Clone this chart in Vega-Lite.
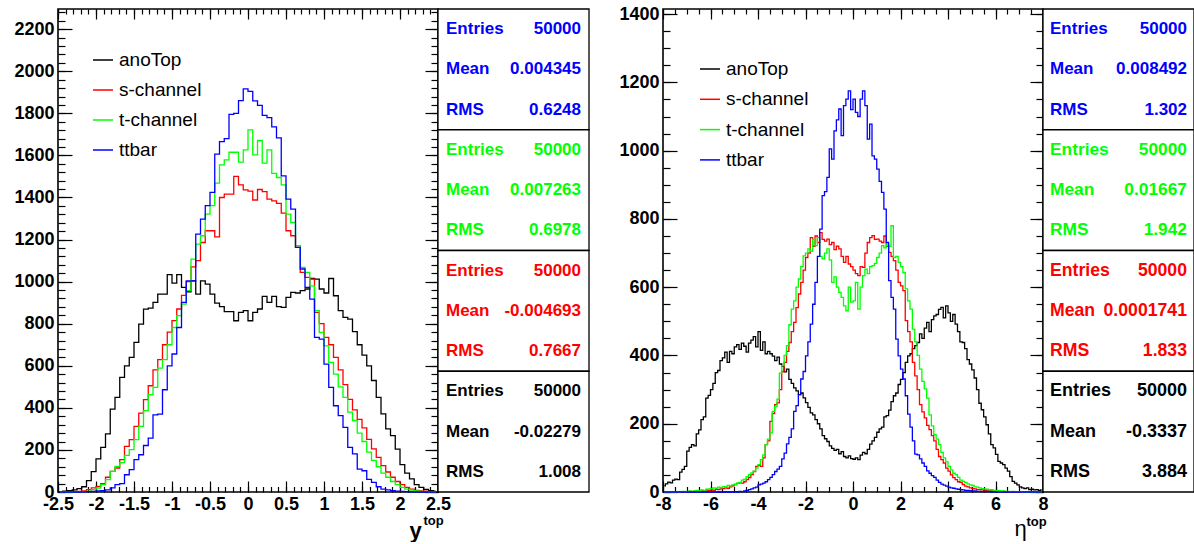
{
 "$schema": "https://vega.github.io/schema/vega-lite/v6.json",
 "background": "white",
 "padding": {"left": 13, "top": 4, "right": 0, "bottom": 0},
 "config": {
  "view": {"stroke": "#000000", "strokeWidth": 1.6},
  "axis": {"domain": false, "grid": false, "tickColor": "#000000", "tickWidth": 1.2, "labelColor": "#000000", "labelFont": "Liberation Sans", "labelFontWeight": "bold", "labelFontSize": 18, "titleColor": "#000000", "labelOverlap": false, "labelFlush": false, "labelBound": false}
 },
 "datasets": {
  "left": [
   {"x":-2.46875,"anoTop":2,"s-channel":0,"t-channel":0,"ttbar":0},
   {"x":-2.40625,"anoTop":4,"s-channel":0,"t-channel":0,"ttbar":0},
   {"x":-2.34375,"anoTop":6,"s-channel":1,"t-channel":0,"ttbar":0},
   {"x":-2.28125,"anoTop":10,"s-channel":2,"t-channel":1,"ttbar":0},
   {"x":-2.21875,"anoTop":16,"s-channel":3,"t-channel":1,"ttbar":0},
   {"x":-2.15625,"anoTop":25,"s-channel":5,"t-channel":2,"ttbar":1},
   {"x":-2.09375,"anoTop":54,"s-channel":11,"t-channel":3,"ttbar":2},
   {"x":-2.03125,"anoTop":97,"s-channel":20,"t-channel":11,"ttbar":3},
   {"x":-1.96875,"anoTop":157,"s-channel":27,"t-channel":19,"ttbar":5},
   {"x":-1.90625,"anoTop":212,"s-channel":40,"t-channel":35,"ttbar":6},
   {"x":-1.84375,"anoTop":276,"s-channel":70,"t-channel":59,"ttbar":10},
   {"x":-1.78125,"anoTop":394,"s-channel":98,"t-channel":98,"ttbar":20},
   {"x":-1.71875,"anoTop":450,"s-channel":114,"t-channel":122,"ttbar":35},
   {"x":-1.65625,"anoTop":545,"s-channel":154,"t-channel":140,"ttbar":40},
   {"x":-1.59375,"anoTop":600,"s-channel":217,"t-channel":174,"ttbar":82},
   {"x":-1.53125,"anoTop":640,"s-channel":249,"t-channel":201,"ttbar":106},
   {"x":-1.46875,"anoTop":711,"s-channel":312,"t-channel":249,"ttbar":154},
   {"x":-1.40625,"anoTop":798,"s-channel":375,"t-channel":312,"ttbar":177},
   {"x":-1.34375,"anoTop":869,"s-channel":439,"t-channel":387,"ttbar":221},
   {"x":-1.28125,"anoTop":874,"s-channel":505,"t-channel":463,"ttbar":256},
   {"x":-1.21875,"anoTop":901,"s-channel":581,"t-channel":497,"ttbar":367},
   {"x":-1.15625,"anoTop":941,"s-channel":629,"t-channel":589,"ttbar":370},
   {"x":-1.09375,"anoTop":941,"s-channel":700,"t-channel":629,"ttbar":486},
   {"x":-1.03125,"anoTop":1033,"s-channel":760,"t-channel":700,"ttbar":600},
   {"x":-0.96875,"anoTop":993,"s-channel":815,"t-channel":782,"ttbar":656},
   {"x":-0.90625,"anoTop":1033,"s-channel":870,"t-channel":838,"ttbar":782},
   {"x":-0.84375,"anoTop":973,"s-channel":935,"t-channel":893,"ttbar":901},
   {"x":-0.78125,"anoTop":952,"s-channel":1000,"t-channel":957,"ttbar":1004},
   {"x":-0.71875,"anoTop":1004,"s-channel":1070,"t-channel":1107,"ttbar":1004},
   {"x":-0.65625,"anoTop":941,"s-channel":1100,"t-channel":1178,"ttbar":1226},
   {"x":-0.59375,"anoTop":1004,"s-channel":1186,"t-channel":1218,"ttbar":1297},
   {"x":-0.53125,"anoTop":988,"s-channel":1242,"t-channel":1321,"ttbar":1361},
   {"x":-0.46875,"anoTop":941,"s-channel":1242,"t-channel":1361,"ttbar":1424},
   {"x":-0.40625,"anoTop":898,"s-channel":1213,"t-channel":1468,"ttbar":1606},
   {"x":-0.34375,"anoTop":881,"s-channel":1400,"t-channel":1555,"ttbar":1666},
   {"x":-0.28125,"anoTop":857,"s-channel":1416,"t-channel":1579,"ttbar":1680},
   {"x":-0.21875,"anoTop":857,"s-channel":1416,"t-channel":1615,"ttbar":1795},
   {"x":-0.15625,"anoTop":814,"s-channel":1500,"t-channel":1615,"ttbar":1800},
   {"x":-0.09375,"anoTop":854,"s-channel":1460,"t-channel":1568,"ttbar":1860},
   {"x":-0.03125,"anoTop":862,"s-channel":1436,"t-channel":1626,"ttbar":1916},
   {"x":0.03125,"anoTop":814,"s-channel":1430,"t-channel":1721,"ttbar":1904},
   {"x":0.09375,"anoTop":854,"s-channel":1388,"t-channel":1603,"ttbar":1859},
   {"x":0.15625,"anoTop":870,"s-channel":1438,"t-channel":1671,"ttbar":1838},
   {"x":0.21875,"anoTop":930,"s-channel":1428,"t-channel":1563,"ttbar":1790},
   {"x":0.28125,"anoTop":901,"s-channel":1392,"t-channel":1626,"ttbar":1780},
   {"x":0.34375,"anoTop":930,"s-channel":1384,"t-channel":1515,"ttbar":1736},
   {"x":0.40625,"anoTop":881,"s-channel":1372,"t-channel":1495,"ttbar":1683},
   {"x":0.46875,"anoTop":878,"s-channel":1326,"t-channel":1460,"ttbar":1503},
   {"x":0.53125,"anoTop":925,"s-channel":1242,"t-channel":1321,"ttbar":1392},
   {"x":0.59375,"anoTop":949,"s-channel":1218,"t-channel":1281,"ttbar":1345},
   {"x":0.65625,"anoTop":946,"s-channel":1163,"t-channel":1171,"ttbar":1163},
   {"x":0.71875,"anoTop":957,"s-channel":1044,"t-channel":1068,"ttbar":1060},
   {"x":0.78125,"anoTop":965,"s-channel":1020,"t-channel":1044,"ttbar":973},
   {"x":0.84375,"anoTop":1015,"s-channel":1012,"t-channel":980,"ttbar":917},
   {"x":0.90625,"anoTop":1012,"s-channel":854,"t-channel":862,"ttbar":735},
   {"x":0.96875,"anoTop":965,"s-channel":800,"t-channel":759,"ttbar":727},
   {"x":1.03125,"anoTop":946,"s-channel":735,"t-channel":695,"ttbar":608},
   {"x":1.09375,"anoTop":1015,"s-channel":700,"t-channel":616,"ttbar":497},
   {"x":1.15625,"anoTop":933,"s-channel":640,"t-channel":560,"ttbar":410},
   {"x":1.21875,"anoTop":862,"s-channel":581,"t-channel":500,"ttbar":363},
   {"x":1.28125,"anoTop":830,"s-channel":510,"t-channel":450,"ttbar":307},
   {"x":1.34375,"anoTop":822,"s-channel":440,"t-channel":380,"ttbar":212},
   {"x":1.40625,"anoTop":762,"s-channel":390,"t-channel":340,"ttbar":181},
   {"x":1.46875,"anoTop":700,"s-channel":345,"t-channel":280,"ttbar":109},
   {"x":1.53125,"anoTop":651,"s-channel":305,"t-channel":240,"ttbar":101},
   {"x":1.59375,"anoTop":600,"s-channel":250,"t-channel":190,"ttbar":60},
   {"x":1.65625,"anoTop":530,"s-channel":205,"t-channel":150,"ttbar":46},
   {"x":1.71875,"anoTop":450,"s-channel":165,"t-channel":120,"ttbar":25},
   {"x":1.78125,"anoTop":371,"s-channel":125,"t-channel":90,"ttbar":14},
   {"x":1.84375,"anoTop":300,"s-channel":95,"t-channel":70,"ttbar":10},
   {"x":1.90625,"anoTop":268,"s-channel":70,"t-channel":50,"ttbar":6},
   {"x":1.96875,"anoTop":204,"s-channel":50,"t-channel":35,"ttbar":4},
   {"x":2.03125,"anoTop":130,"s-channel":35,"t-channel":22,"ttbar":3},
   {"x":2.09375,"anoTop":90,"s-channel":22,"t-channel":14,"ttbar":2},
   {"x":2.15625,"anoTop":62,"s-channel":14,"t-channel":9,"ttbar":1},
   {"x":2.21875,"anoTop":35,"s-channel":8,"t-channel":5,"ttbar":1},
   {"x":2.28125,"anoTop":22,"s-channel":5,"t-channel":3,"ttbar":0},
   {"x":2.34375,"anoTop":12,"s-channel":3,"t-channel":2,"ttbar":0},
   {"x":2.40625,"anoTop":6,"s-channel":1,"t-channel":1,"ttbar":0},
   {"x":2.46875,"anoTop":4,"s-channel":0,"t-channel":0,"ttbar":0}
  ],
  "right": [
   {"x":-7.95,"anoTop":18,"s-channel":0,"t-channel":0,"ttbar":0},
   {"x":-7.85,"anoTop":24,"s-channel":0,"t-channel":0,"ttbar":0},
   {"x":-7.75,"anoTop":29,"s-channel":0,"t-channel":1,"ttbar":0},
   {"x":-7.65,"anoTop":27,"s-channel":1,"t-channel":0,"ttbar":0},
   {"x":-7.55,"anoTop":35,"s-channel":0,"t-channel":0,"ttbar":0},
   {"x":-7.45,"anoTop":38,"s-channel":0,"t-channel":1,"ttbar":0},
   {"x":-7.35,"anoTop":36,"s-channel":1,"t-channel":0,"ttbar":0},
   {"x":-7.25,"anoTop":58,"s-channel":0,"t-channel":1,"ttbar":0},
   {"x":-7.15,"anoTop":66,"s-channel":1,"t-channel":2,"ttbar":0},
   {"x":-7.05,"anoTop":75,"s-channel":0,"t-channel":1,"ttbar":0},
   {"x":-6.95,"anoTop":120,"s-channel":1,"t-channel":2,"ttbar":0},
   {"x":-6.85,"anoTop":131,"s-channel":2,"t-channel":3,"ttbar":0},
   {"x":-6.75,"anoTop":139,"s-channel":1,"t-channel":2,"ttbar":0},
   {"x":-6.65,"anoTop":135,"s-channel":2,"t-channel":4,"ttbar":0},
   {"x":-6.55,"anoTop":170,"s-channel":3,"t-channel":5,"ttbar":0},
   {"x":-6.45,"anoTop":182,"s-channel":2,"t-channel":4,"ttbar":0},
   {"x":-6.35,"anoTop":212,"s-channel":3,"t-channel":6,"ttbar":0},
   {"x":-6.25,"anoTop":220,"s-channel":4,"t-channel":5,"ttbar":0},
   {"x":-6.15,"anoTop":275,"s-channel":3,"t-channel":8,"ttbar":0},
   {"x":-6.05,"anoTop":283,"s-channel":5,"t-channel":9,"ttbar":0},
   {"x":-5.95,"anoTop":300,"s-channel":6,"t-channel":10,"ttbar":0},
   {"x":-5.85,"anoTop":318,"s-channel":5,"t-channel":12,"ttbar":0},
   {"x":-5.75,"anoTop":350,"s-channel":8,"t-channel":11,"ttbar":0},
   {"x":-5.65,"anoTop":356,"s-channel":7,"t-channel":14,"ttbar":0},
   {"x":-5.55,"anoTop":385,"s-channel":9,"t-channel":13,"ttbar":0},
   {"x":-5.45,"anoTop":393,"s-channel":10,"t-channel":16,"ttbar":0},
   {"x":-5.35,"anoTop":410,"s-channel":12,"t-channel":15,"ttbar":0},
   {"x":-5.25,"anoTop":380,"s-channel":11,"t-channel":19,"ttbar":0},
   {"x":-5.15,"anoTop":412,"s-channel":15,"t-channel":18,"ttbar":0},
   {"x":-5.05,"anoTop":405,"s-channel":18,"t-channel":21,"ttbar":0},
   {"x":-4.95,"anoTop":425,"s-channel":22,"t-channel":22,"ttbar":1},
   {"x":-4.85,"anoTop":432,"s-channel":25,"t-channel":26,"ttbar":0},
   {"x":-4.75,"anoTop":418,"s-channel":27,"t-channel":28,"ttbar":2},
   {"x":-4.65,"anoTop":436,"s-channel":26,"t-channel":35,"ttbar":1},
   {"x":-4.55,"anoTop":427,"s-channel":30,"t-channel":38,"ttbar":3},
   {"x":-4.45,"anoTop":410,"s-channel":36,"t-channel":45,"ttbar":5},
   {"x":-4.35,"anoTop":436,"s-channel":42,"t-channel":51,"ttbar":7},
   {"x":-4.25,"anoTop":445,"s-channel":51,"t-channel":56,"ttbar":9},
   {"x":-4.15,"anoTop":455,"s-channel":60,"t-channel":61,"ttbar":12},
   {"x":-4.05,"anoTop":425,"s-channel":75,"t-channel":70,"ttbar":14},
   {"x":-3.95,"anoTop":470,"s-channel":78,"t-channel":80,"ttbar":21},
   {"x":-3.85,"anoTop":415,"s-channel":75,"t-channel":95,"ttbar":23},
   {"x":-3.75,"anoTop":440,"s-channel":100,"t-channel":109,"ttbar":26},
   {"x":-3.65,"anoTop":405,"s-channel":139,"t-channel":139,"ttbar":30},
   {"x":-3.55,"anoTop":412,"s-channel":150,"t-channel":155,"ttbar":36},
   {"x":-3.45,"anoTop":405,"s-channel":207,"t-channel":173,"ttbar":43},
   {"x":-3.35,"anoTop":398,"s-channel":230,"t-channel":236,"ttbar":51},
   {"x":-3.25,"anoTop":385,"s-channel":256,"t-channel":250,"ttbar":60},
   {"x":-3.15,"anoTop":395,"s-channel":261,"t-channel":272,"ttbar":67},
   {"x":-3.05,"anoTop":375,"s-channel":300,"t-channel":348,"ttbar":75},
   {"x":-2.95,"anoTop":368,"s-channel":353,"t-channel":370,"ttbar":97},
   {"x":-2.85,"anoTop":352,"s-channel":380,"t-channel":400,"ttbar":114},
   {"x":-2.75,"anoTop":360,"s-channel":412,"t-channel":429,"ttbar":141},
   {"x":-2.65,"anoTop":330,"s-channel":438,"t-channel":490,"ttbar":160},
   {"x":-2.55,"anoTop":318,"s-channel":470,"t-channel":536,"ttbar":185},
   {"x":-2.45,"anoTop":305,"s-channel":497,"t-channel":560,"ttbar":236},
   {"x":-2.35,"anoTop":296,"s-channel":540,"t-channel":600,"ttbar":253},
   {"x":-2.25,"anoTop":285,"s-channel":580,"t-channel":624,"ttbar":285},
   {"x":-2.15,"anoTop":290,"s-channel":614,"t-channel":660,"ttbar":331},
   {"x":-2.05,"anoTop":276,"s-channel":650,"t-channel":692,"ttbar":353},
   {"x":-1.95,"anoTop":262,"s-channel":687,"t-channel":700,"ttbar":399},
   {"x":-1.85,"anoTop":248,"s-channel":700,"t-channel":712,"ttbar":440},
   {"x":-1.75,"anoTop":232,"s-channel":745,"t-channel":705,"ttbar":492},
   {"x":-1.65,"anoTop":226,"s-channel":720,"t-channel":740,"ttbar":550},
   {"x":-1.55,"anoTop":212,"s-channel":750,"t-channel":722,"ttbar":614},
   {"x":-1.45,"anoTop":200,"s-channel":731,"t-channel":745,"ttbar":690},
   {"x":-1.35,"anoTop":185,"s-channel":760,"t-channel":690,"ttbar":770},
   {"x":-1.25,"anoTop":165,"s-channel":740,"t-channel":683,"ttbar":868},
   {"x":-1.15,"anoTop":156,"s-channel":735,"t-channel":700,"ttbar":880},
   {"x":-1.05,"anoTop":148,"s-channel":741,"t-channel":712,"ttbar":922},
   {"x":-0.95,"anoTop":135,"s-channel":725,"t-channel":680,"ttbar":1005},
   {"x":-0.85,"anoTop":128,"s-channel":731,"t-channel":614,"ttbar":975},
   {"x":-0.75,"anoTop":122,"s-channel":710,"t-channel":630,"ttbar":1058},
   {"x":-0.65,"anoTop":125,"s-channel":720,"t-channel":600,"ttbar":1090},
   {"x":-0.55,"anoTop":112,"s-channel":712,"t-channel":585,"ttbar":1122},
   {"x":-0.45,"anoTop":118,"s-channel":690,"t-channel":570,"ttbar":1044},
   {"x":-0.35,"anoTop":104,"s-channel":673,"t-channel":545,"ttbar":1132},
   {"x":-0.25,"anoTop":100,"s-channel":690,"t-channel":531,"ttbar":1151},
   {"x":-0.15,"anoTop":106,"s-channel":668,"t-channel":600,"ttbar":1175},
   {"x":-0.05,"anoTop":98,"s-channel":660,"t-channel":556,"ttbar":1120},
   {"x":0.05,"anoTop":96,"s-channel":650,"t-channel":560,"ttbar":1151},
   {"x":0.15,"anoTop":100,"s-channel":640,"t-channel":614,"ttbar":1112},
   {"x":0.25,"anoTop":95,"s-channel":634,"t-channel":536,"ttbar":1100},
   {"x":0.35,"anoTop":108,"s-channel":660,"t-channel":600,"ttbar":1151},
   {"x":0.45,"anoTop":116,"s-channel":658,"t-channel":634,"ttbar":1175},
   {"x":0.55,"anoTop":112,"s-channel":700,"t-channel":653,"ttbar":1132},
   {"x":0.65,"anoTop":125,"s-channel":731,"t-channel":640,"ttbar":1034},
   {"x":0.75,"anoTop":140,"s-channel":745,"t-channel":660,"ttbar":1078},
   {"x":0.85,"anoTop":150,"s-channel":751,"t-channel":663,"ttbar":985},
   {"x":0.95,"anoTop":160,"s-channel":740,"t-channel":670,"ttbar":975},
   {"x":1.05,"anoTop":175,"s-channel":741,"t-channel":687,"ttbar":946},
   {"x":1.15,"anoTop":185,"s-channel":735,"t-channel":700,"ttbar":910},
   {"x":1.25,"anoTop":190,"s-channel":731,"t-channel":722,"ttbar":878},
   {"x":1.35,"anoTop":220,"s-channel":750,"t-channel":715,"ttbar":829},
   {"x":1.45,"anoTop":224,"s-channel":720,"t-channel":726,"ttbar":731},
   {"x":1.55,"anoTop":240,"s-channel":702,"t-channel":720,"ttbar":619},
   {"x":1.65,"anoTop":265,"s-channel":690,"t-channel":780,"ttbar":570},
   {"x":1.75,"anoTop":282,"s-channel":678,"t-channel":687,"ttbar":536},
   {"x":1.85,"anoTop":290,"s-channel":650,"t-channel":690,"ttbar":448},
   {"x":1.95,"anoTop":315,"s-channel":614,"t-channel":673,"ttbar":399},
   {"x":2.05,"anoTop":330,"s-channel":604,"t-channel":660,"ttbar":360},
   {"x":2.15,"anoTop":350,"s-channel":590,"t-channel":643,"ttbar":331},
   {"x":2.25,"anoTop":380,"s-channel":502,"t-channel":595,"ttbar":282},
   {"x":2.35,"anoTop":399,"s-channel":470,"t-channel":560,"ttbar":228},
   {"x":2.45,"anoTop":405,"s-channel":440,"t-channel":536,"ttbar":190},
   {"x":2.55,"anoTop":420,"s-channel":380,"t-channel":477,"ttbar":150},
   {"x":2.65,"anoTop":429,"s-channel":340,"t-channel":440,"ttbar":111},
   {"x":2.75,"anoTop":438,"s-channel":300,"t-channel":400,"ttbar":109},
   {"x":2.85,"anoTop":463,"s-channel":256,"t-channel":360,"ttbar":97},
   {"x":2.95,"anoTop":450,"s-channel":235,"t-channel":324,"ttbar":85},
   {"x":3.05,"anoTop":480,"s-channel":217,"t-channel":302,"ttbar":75},
   {"x":3.15,"anoTop":497,"s-channel":195,"t-channel":275,"ttbar":62},
   {"x":3.25,"anoTop":470,"s-channel":183,"t-channel":226,"ttbar":55},
   {"x":3.35,"anoTop":505,"s-channel":165,"t-channel":194,"ttbar":48},
   {"x":3.45,"anoTop":516,"s-channel":150,"t-channel":168,"ttbar":43},
   {"x":3.55,"anoTop":520,"s-channel":125,"t-channel":155,"ttbar":35},
   {"x":3.65,"anoTop":535,"s-channel":104,"t-channel":139,"ttbar":28},
   {"x":3.75,"anoTop":541,"s-channel":95,"t-channel":116,"ttbar":23},
   {"x":3.85,"anoTop":510,"s-channel":85,"t-channel":100,"ttbar":20},
   {"x":3.95,"anoTop":545,"s-channel":70,"t-channel":88,"ttbar":17},
   {"x":4.05,"anoTop":525,"s-channel":61,"t-channel":75,"ttbar":14},
   {"x":4.15,"anoTop":500,"s-channel":50,"t-channel":65,"ttbar":12},
   {"x":4.25,"anoTop":520,"s-channel":42,"t-channel":55,"ttbar":11},
   {"x":4.35,"anoTop":492,"s-channel":36,"t-channel":51,"ttbar":9},
   {"x":4.45,"anoTop":470,"s-channel":30,"t-channel":43,"ttbar":8},
   {"x":4.55,"anoTop":440,"s-channel":28,"t-channel":35,"ttbar":7},
   {"x":4.65,"anoTop":438,"s-channel":22,"t-channel":31,"ttbar":6},
   {"x":4.75,"anoTop":420,"s-channel":17,"t-channel":28,"ttbar":5},
   {"x":4.85,"anoTop":388,"s-channel":15,"t-channel":24,"ttbar":5},
   {"x":4.95,"anoTop":375,"s-channel":12,"t-channel":21,"ttbar":4},
   {"x":5.05,"anoTop":358,"s-channel":10,"t-channel":19,"ttbar":3},
   {"x":5.15,"anoTop":334,"s-channel":9,"t-channel":15,"ttbar":3},
   {"x":5.25,"anoTop":300,"s-channel":7,"t-channel":14,"ttbar":2},
   {"x":5.35,"anoTop":260,"s-channel":7,"t-channel":12,"ttbar":2},
   {"x":5.45,"anoTop":241,"s-channel":6,"t-channel":10,"ttbar":1},
   {"x":5.55,"anoTop":220,"s-channel":5,"t-channel":9,"ttbar":2},
   {"x":5.65,"anoTop":197,"s-channel":4,"t-channel":8,"ttbar":1},
   {"x":5.75,"anoTop":170,"s-channel":4,"t-channel":6,"ttbar":1},
   {"x":5.85,"anoTop":139,"s-channel":3,"t-channel":7,"ttbar":0},
   {"x":5.95,"anoTop":129,"s-channel":3,"t-channel":5,"ttbar":1},
   {"x":6.05,"anoTop":110,"s-channel":2,"t-channel":4,"ttbar":0},
   {"x":6.15,"anoTop":90,"s-channel":2,"t-channel":4,"ttbar":0},
   {"x":6.25,"anoTop":85,"s-channel":1,"t-channel":3,"ttbar":0},
   {"x":6.35,"anoTop":80,"s-channel":2,"t-channel":3,"ttbar":0},
   {"x":6.45,"anoTop":70,"s-channel":1,"t-channel":2,"ttbar":0},
   {"x":6.55,"anoTop":61,"s-channel":1,"t-channel":2,"ttbar":0},
   {"x":6.65,"anoTop":45,"s-channel":0,"t-channel":1,"ttbar":0},
   {"x":6.75,"anoTop":31,"s-channel":1,"t-channel":2,"ttbar":0},
   {"x":6.85,"anoTop":26,"s-channel":0,"t-channel":1,"ttbar":0},
   {"x":6.95,"anoTop":21,"s-channel":1,"t-channel":1,"ttbar":0},
   {"x":7.05,"anoTop":15,"s-channel":0,"t-channel":1,"ttbar":0},
   {"x":7.15,"anoTop":12,"s-channel":0,"t-channel":0,"ttbar":0},
   {"x":7.25,"anoTop":10,"s-channel":0,"t-channel":1,"ttbar":0},
   {"x":7.35,"anoTop":12,"s-channel":0,"t-channel":0,"ttbar":0},
   {"x":7.45,"anoTop":7,"s-channel":0,"t-channel":0,"ttbar":0},
   {"x":7.55,"anoTop":8,"s-channel":0,"t-channel":0,"ttbar":0},
   {"x":7.65,"anoTop":6,"s-channel":0,"t-channel":0,"ttbar":0},
   {"x":7.75,"anoTop":7,"s-channel":0,"t-channel":0,"ttbar":0},
   {"x":7.85,"anoTop":5,"s-channel":0,"t-channel":0,"ttbar":0},
   {"x":7.95,"anoTop":6,"s-channel":0,"t-channel":0,"ttbar":0}
  ],
  "statsL": [
   {"s":"ttbar","box":0,"line":0,"label":"Entries","val":"50000"},
   {"s":"ttbar","box":0,"line":1,"label":"Mean","val":"0.004345"},
   {"s":"ttbar","box":0,"line":2,"label":"RMS","val":"0.6248"},
   {"s":"t-channel","box":1,"line":3,"label":"Entries","val":"50000"},
   {"s":"t-channel","box":1,"line":4,"label":"Mean","val":"0.007263"},
   {"s":"t-channel","box":1,"line":5,"label":"RMS","val":"0.6978"},
   {"s":"s-channel","box":2,"line":6,"label":"Entries","val":"50000"},
   {"s":"s-channel","box":2,"line":7,"label":"Mean","val":"-0.004693"},
   {"s":"s-channel","box":2,"line":8,"label":"RMS","val":"0.7667"},
   {"s":"anoTop","box":3,"line":9,"label":"Entries","val":"50000"},
   {"s":"anoTop","box":3,"line":10,"label":"Mean","val":"-0.02279"},
   {"s":"anoTop","box":3,"line":11,"label":"RMS","val":"1.008"}
  ],
  "statsR": [
   {"s":"ttbar","box":0,"line":0,"label":"Entries","val":"50000"},
   {"s":"ttbar","box":0,"line":1,"label":"Mean","val":"0.008492"},
   {"s":"ttbar","box":0,"line":2,"label":"RMS","val":"1.302"},
   {"s":"t-channel","box":1,"line":3,"label":"Entries","val":"50000"},
   {"s":"t-channel","box":1,"line":4,"label":"Mean","val":"0.01667"},
   {"s":"t-channel","box":1,"line":5,"label":"RMS","val":"1.942"},
   {"s":"s-channel","box":2,"line":6,"label":"Entries","val":"50000"},
   {"s":"s-channel","box":2,"line":7,"label":"Mean","val":"0.0001741"},
   {"s":"s-channel","box":2,"line":8,"label":"RMS","val":"1.833"},
   {"s":"anoTop","box":3,"line":9,"label":"Entries","val":"50000"},
   {"s":"anoTop","box":3,"line":10,"label":"Mean","val":"-0.3337"},
   {"s":"anoTop","box":3,"line":11,"label":"RMS","val":"3.884"}
  ]
 },
 "hconcat": [
  {
   "width": 380, "height": 483,
   "data": {"name": "left"},
   "transform": [{"fold": ["anoTop", "s-channel", "t-channel", "ttbar"], "as": ["s", "v"]}],
   "resolve": {"axis": {"x": "independent", "y": "independent"}},
   "layer": [
    {
     "transform": [{"filter": "datum.s === 'anoTop'"}],
     "mark": {"type": "line", "interpolate": "step", "strokeWidth": 1.3},
     "encoding": {
      "x": {"field": "x", "type": "quantitative", "scale": {"domain": [-2.5, 2.5], "nice": false, "zero": false},
            "axis": {"orient": "bottom", "values": [-2.5,-2,-1.5,-1,-0.5,0,0.5,1,1.5,2,2.5], "tickSize": -11, "labelPadding": 14, "labelExpr": "'' + datum.value",
                     "title": "y", "titleX": 351, "titleY": 45, "titleAlign": "left", "titleBaseline": "alphabetic", "titleAngle": 0, "titleFont": "Liberation Sans", "titleFontSize": 22, "titleFontWeight": "bold"}},
      "y": {"field": "v", "type": "quantitative", "scale": {"domain": [0, 2296], "nice": false, "zero": false},
            "axis": {"orient": "left", "values": [0,200,400,600,800,1000,1200,1400,1600,1800,2000,2200], "tickSize": -14, "labelPadding": 18, "labelExpr": "'' + datum.value", "title": null}},
      "color": {"field": "s", "type": "nominal", "scale": {"domain": ["anoTop", "s-channel", "t-channel", "ttbar"], "range": ["#000000", "#ff0000", "#00ff00", "#0000ff"]},
                "legend": {"orient": "none", "legendX": 34, "legendY": 40, "title": null, "symbolType": "stroke", "symbolSize": 400, "symbolStrokeWidth": 1.5, "labelFont": "Liberation Sans", "labelFontSize": 19, "labelColor": "#000000", "labelOffset": 5, "rowPadding": 9, "padding": 0}}
     }
    },
    {
     "transform": [{"filter": "datum.s === 's-channel'"}],
     "mark": {"type": "line", "interpolate": "step", "strokeWidth": 1.3},
     "encoding": {
      "x": {"field": "x", "type": "quantitative", "scale": {"domain": [-2.5, 2.5], "nice": false, "zero": false},
            "axis": {"orient": "top", "values": [-2.5,-2,-1.5,-1,-0.5,0,0.5,1,1.5,2,2.5], "tickSize": -10, "labels": false, "title": null}},
      "y": {"field": "v", "type": "quantitative", "scale": {"domain": [0, 2296], "nice": false, "zero": false},
            "axis": {"orient": "right", "values": [0,200,400,600,800,1000,1200,1400,1600,1800,2000,2200], "tickSize": -13, "labels": false, "title": null}},
      "color": {"field": "s", "type": "nominal", "scale": {"domain": ["anoTop", "s-channel", "t-channel", "ttbar"], "range": ["#000000", "#ff0000", "#00ff00", "#0000ff"]}, "legend": null}
     }
    },
    {
     "transform": [{"filter": "datum.s === 't-channel'"}],
     "mark": {"type": "line", "interpolate": "step", "strokeWidth": 1.3},
     "encoding": {
      "x": {"field": "x", "type": "quantitative", "scale": {"domain": [-2.5, 2.5], "nice": false, "zero": false},
            "axis": {"orient": "bottom", "values": [-2.5,-2.4,-2.3,-2.2,-2.1,-2,-1.9,-1.8,-1.7,-1.6,-1.5,-1.4,-1.3,-1.2,-1.1,-1,-0.9,-0.8,-0.7,-0.6,-0.5,-0.4,-0.3,-0.2,-0.1,0,0.1,0.2,0.3,0.4,0.5,0.6,0.7,0.8,0.9,1,1.1,1.2,1.3,1.4,1.5,1.6,1.7,1.8,1.9,2,2.1,2.2,2.3,2.4,2.5], "tickSize": -5.5, "labels": false,
                     "title": "top", "titleX": 365, "titleY": 32, "titleAlign": "left", "titleBaseline": "alphabetic", "titleAngle": 0, "titleFont": "Liberation Sans", "titleFontSize": 13, "titleFontWeight": "bold"}},
      "y": {"field": "v", "type": "quantitative", "scale": {"domain": [0, 2296], "nice": false, "zero": false},
            "axis": {"orient": "left", "values": [0,40,80,120,160,200,240,280,320,360,400,440,480,520,560,600,640,680,720,760,800,840,880,920,960,1000,1040,1080,1120,1160,1200,1240,1280,1320,1360,1400,1440,1480,1520,1560,1600,1640,1680,1720,1760,1800,1840,1880,1920,1960,2000,2040,2080,2120,2160,2200,2240,2280], "tickSize": -7, "labels": false, "title": null}},
      "color": {"field": "s", "type": "nominal", "scale": {"domain": ["anoTop", "s-channel", "t-channel", "ttbar"], "range": ["#000000", "#ff0000", "#00ff00", "#0000ff"]}, "legend": null}
     }
    },
    {
     "transform": [{"filter": "datum.s === 'ttbar'"}],
     "mark": {"type": "line", "interpolate": "step", "strokeWidth": 1.3},
     "encoding": {
      "x": {"field": "x", "type": "quantitative", "scale": {"domain": [-2.5, 2.5], "nice": false, "zero": false},
            "axis": {"orient": "top", "values": [-2.5,-2.4,-2.3,-2.2,-2.1,-2,-1.9,-1.8,-1.7,-1.6,-1.5,-1.4,-1.3,-1.2,-1.1,-1,-0.9,-0.8,-0.7,-0.6,-0.5,-0.4,-0.3,-0.2,-0.1,0,0.1,0.2,0.3,0.4,0.5,0.6,0.7,0.8,0.9,1,1.1,1.2,1.3,1.4,1.5,1.6,1.7,1.8,1.9,2,2.1,2.2,2.3,2.4,2.5], "tickSize": -5, "labels": false, "title": null}},
      "y": {"field": "v", "type": "quantitative", "scale": {"domain": [0, 2296], "nice": false, "zero": false},
            "axis": {"orient": "right", "values": [0,40,80,120,160,200,240,280,320,360,400,440,480,520,560,600,640,680,720,760,800,840,880,920,960,1000,1040,1080,1120,1160,1200,1240,1280,1320,1360,1400,1440,1480,1520,1560,1600,1640,1680,1720,1760,1800,1840,1880,1920,1960,2000,2040,2080,2120,2160,2200,2240,2280], "tickSize": -7, "labels": false, "title": null}},
      "color": {"field": "s", "type": "nominal", "scale": {"domain": ["anoTop", "s-channel", "t-channel", "ttbar"], "range": ["#000000", "#ff0000", "#00ff00", "#0000ff"]}, "legend": null}
     }
    }
   ]
  },
  {
   "width": 225, "height": 483,
   "view": {"stroke": null},
   "data": {"name": "statsL"},
   "resolve": {"scale": {"y": "independent"}},
   "layer": [
    {
     "transform": [{"filter": "datum.label === 'Entries'"}],
     "mark": {"type": "rect", "fill": "#ffffff", "stroke": "#000000", "strokeWidth": 1.3},
     "encoding": {
      "x": {"datum": 0, "type": "quantitative", "scale": {"domain": [0, 1.49], "nice": false}, "axis": null},
      "x2": {"datum": 1},
      "y": {"field": "box", "type": "ordinal", "axis": null, "scale": {"paddingInner": 0, "paddingOuter": 0}}
     }
    },
    {
     "mark": {"type": "text", "align": "left", "baseline": "middle", "dx": 8, "font": "Liberation Sans", "fontWeight": "bold", "fontSize": 17},
     "encoding": {
      "x": {"datum": 0, "type": "quantitative", "scale": {"domain": [0, 1.49], "nice": false}, "axis": null},
      "y": {"field": "line", "type": "ordinal", "axis": null},
      "text": {"field": "label"},
      "color": {"field": "s", "type": "nominal", "scale": {"domain": ["anoTop", "s-channel", "t-channel", "ttbar"], "range": ["#000000", "#ff0000", "#00ff00", "#0000ff"]}, "legend": null}
     }
    },
    {
     "mark": {"type": "text", "align": "right", "baseline": "middle", "dx": -8, "font": "Liberation Sans", "fontWeight": "bold", "fontSize": 17},
     "encoding": {
      "x": {"datum": 1, "type": "quantitative", "scale": {"domain": [0, 1.49], "nice": false}, "axis": null},
      "y": {"field": "line", "type": "ordinal", "axis": null},
      "text": {"field": "val"},
      "color": {"field": "s", "type": "nominal", "scale": {"domain": ["anoTop", "s-channel", "t-channel", "ttbar"], "range": ["#000000", "#ff0000", "#00ff00", "#0000ff"]}, "legend": null}
     }
    }
   ]
  },
  {
   "width": 380, "height": 483,
   "data": {"name": "right"},
   "transform": [{"fold": ["anoTop", "s-channel", "t-channel", "ttbar"], "as": ["s", "v"]}],
   "resolve": {"axis": {"x": "independent", "y": "independent"}},
   "layer": [
    {
     "transform": [{"filter": "datum.s === 'anoTop'"}],
     "mark": {"type": "line", "interpolate": "step", "strokeWidth": 1.3},
     "encoding": {
      "x": {"field": "x", "type": "quantitative", "scale": {"domain": [-8, 8], "nice": false, "zero": false},
            "axis": {"orient": "bottom", "values": [-8,-6,-4,-2,0,2,4,6,8], "tickSize": -11, "labelPadding": 14, "labelExpr": "'' + datum.value",
                     "title": "η", "titleX": 351, "titleY": 43, "titleAlign": "left", "titleBaseline": "alphabetic", "titleAngle": 0, "titleFont": "Liberation Sans", "titleFontSize": 22, "titleFontWeight": "normal"}},
      "y": {"field": "v", "type": "quantitative", "scale": {"domain": [0, 1415], "nice": false, "zero": false},
            "axis": {"orient": "left", "values": [0,200,400,600,800,1000,1200,1400], "tickSize": -14, "labelPadding": 18, "labelExpr": "'' + datum.value", "title": null}},
      "color": {"field": "s", "type": "nominal", "scale": {"domain": ["anoTop", "s-channel", "t-channel", "ttbar"], "range": ["#000000", "#ff0000", "#00ff00", "#0000ff"]},
                "legend": {"orient": "none", "legendX": 36, "legendY": 49, "title": null, "symbolType": "stroke", "symbolSize": 400, "symbolStrokeWidth": 1.5, "labelFont": "Liberation Sans", "labelFontSize": 19, "labelColor": "#000000", "labelOffset": 5, "rowPadding": 9.3, "padding": 0}}
     }
    },
    {
     "transform": [{"filter": "datum.s === 's-channel'"}],
     "mark": {"type": "line", "interpolate": "step", "strokeWidth": 1.3},
     "encoding": {
      "x": {"field": "x", "type": "quantitative", "scale": {"domain": [-8, 8], "nice": false, "zero": false},
            "axis": {"orient": "top", "values": [-8,-6,-4,-2,0,2,4,6,8], "tickSize": -10, "labels": false, "title": null}},
      "y": {"field": "v", "type": "quantitative", "scale": {"domain": [0, 1415], "nice": false, "zero": false},
            "axis": {"orient": "right", "values": [0,200,400,600,800,1000,1200,1400], "tickSize": -13, "labels": false, "title": null}},
      "color": {"field": "s", "type": "nominal", "scale": {"domain": ["anoTop", "s-channel", "t-channel", "ttbar"], "range": ["#000000", "#ff0000", "#00ff00", "#0000ff"]}, "legend": null}
     }
    },
    {
     "transform": [{"filter": "datum.s === 't-channel'"}],
     "mark": {"type": "line", "interpolate": "step", "strokeWidth": 1.3},
     "encoding": {
      "x": {"field": "x", "type": "quantitative", "scale": {"domain": [-8, 8], "nice": false, "zero": false},
            "axis": {"orient": "bottom", "values": [-8,-7.5,-7,-6.5,-6,-5.5,-5,-4.5,-4,-3.5,-3,-2.5,-2,-1.5,-1,-0.5,0,0.5,1,1.5,2,2.5,3,3.5,4,4.5,5,5.5,6,6.5,7,7.5,8], "tickSize": -5.5, "labels": false,
                     "title": "top", "titleX": 363, "titleY": 33, "titleAlign": "left", "titleBaseline": "alphabetic", "titleAngle": 0, "titleFont": "Liberation Sans", "titleFontSize": 13, "titleFontWeight": "bold"}},
      "y": {"field": "v", "type": "quantitative", "scale": {"domain": [0, 1415], "nice": false, "zero": false},
            "axis": {"orient": "left", "values": [0,50,100,150,200,250,300,350,400,450,500,550,600,650,700,750,800,850,900,950,1000,1050,1100,1150,1200,1250,1300,1350,1400], "tickSize": -7, "labels": false, "title": null}},
      "color": {"field": "s", "type": "nominal", "scale": {"domain": ["anoTop", "s-channel", "t-channel", "ttbar"], "range": ["#000000", "#ff0000", "#00ff00", "#0000ff"]}, "legend": null}
     }
    },
    {
     "transform": [{"filter": "datum.s === 'ttbar'"}],
     "mark": {"type": "line", "interpolate": "step", "strokeWidth": 1.3},
     "encoding": {
      "x": {"field": "x", "type": "quantitative", "scale": {"domain": [-8, 8], "nice": false, "zero": false},
            "axis": {"orient": "top", "values": [-8,-7.5,-7,-6.5,-6,-5.5,-5,-4.5,-4,-3.5,-3,-2.5,-2,-1.5,-1,-0.5,0,0.5,1,1.5,2,2.5,3,3.5,4,4.5,5,5.5,6,6.5,7,7.5,8], "tickSize": -5, "labels": false, "title": null}},
      "y": {"field": "v", "type": "quantitative", "scale": {"domain": [0, 1415], "nice": false, "zero": false},
            "axis": {"orient": "right", "values": [0,50,100,150,200,250,300,350,400,450,500,550,600,650,700,750,800,850,900,950,1000,1050,1100,1150,1200,1250,1300,1350,1400], "tickSize": -7, "labels": false, "title": null}},
      "color": {"field": "s", "type": "nominal", "scale": {"domain": ["anoTop", "s-channel", "t-channel", "ttbar"], "range": ["#000000", "#ff0000", "#00ff00", "#0000ff"]}, "legend": null}
     }
    }
   ]
  },
  {
   "width": 151, "height": 483,
   "view": {"stroke": null},
   "data": {"name": "statsR"},
   "resolve": {"scale": {"y": "independent"}},
   "layer": [
    {
     "transform": [{"filter": "datum.label === 'Entries'"}],
     "mark": {"type": "rect", "fill": "#ffffff", "stroke": "#000000", "strokeWidth": 1.3},
     "encoding": {
      "x": {"datum": 0, "type": "quantitative", "scale": {"domain": [0, 1], "nice": false}, "axis": null},
      "x2": {"datum": 1},
      "y": {"field": "box", "type": "ordinal", "axis": null, "scale": {"paddingInner": 0, "paddingOuter": 0}}
     }
    },
    {
     "mark": {"type": "text", "align": "left", "baseline": "middle", "dx": 7, "font": "Liberation Sans", "fontWeight": "bold"},
     "encoding": {
      "x": {"datum": 0, "type": "quantitative", "scale": {"domain": [0, 1], "nice": false}, "axis": null},
      "y": {"field": "line", "type": "ordinal", "axis": null},
      "text": {"field": "label"},
      "size": {"field": "s", "type": "nominal", "scale": {"domain": ["ttbar", "t-channel", "s-channel", "anoTop"], "range": [17, 18, 18.4, 19]}, "legend": null},
      "color": {"field": "s", "type": "nominal", "scale": {"domain": ["anoTop", "s-channel", "t-channel", "ttbar"], "range": ["#000000", "#ff0000", "#00ff00", "#0000ff"]}, "legend": null}
     }
    },
    {
     "mark": {"type": "text", "align": "right", "baseline": "middle", "dx": -7, "font": "Liberation Sans", "fontWeight": "bold"},
     "encoding": {
      "x": {"datum": 1, "type": "quantitative", "scale": {"domain": [0, 1], "nice": false}, "axis": null},
      "y": {"field": "line", "type": "ordinal", "axis": null},
      "text": {"field": "val"},
      "size": {"field": "s", "type": "nominal", "scale": {"domain": ["ttbar", "t-channel", "s-channel", "anoTop"], "range": [17, 18, 18.4, 19]}, "legend": null},
      "color": {"field": "s", "type": "nominal", "scale": {"domain": ["anoTop", "s-channel", "t-channel", "ttbar"], "range": ["#000000", "#ff0000", "#00ff00", "#0000ff"]}, "legend": null}
     }
    }
   ]
  }
 ],
 "spacing": 0,
 "bounds": "flush",
 "resolve": {"scale": {"color": "independent", "size": "independent"}, "legend": {"color": "independent", "size": "independent"}}
}
